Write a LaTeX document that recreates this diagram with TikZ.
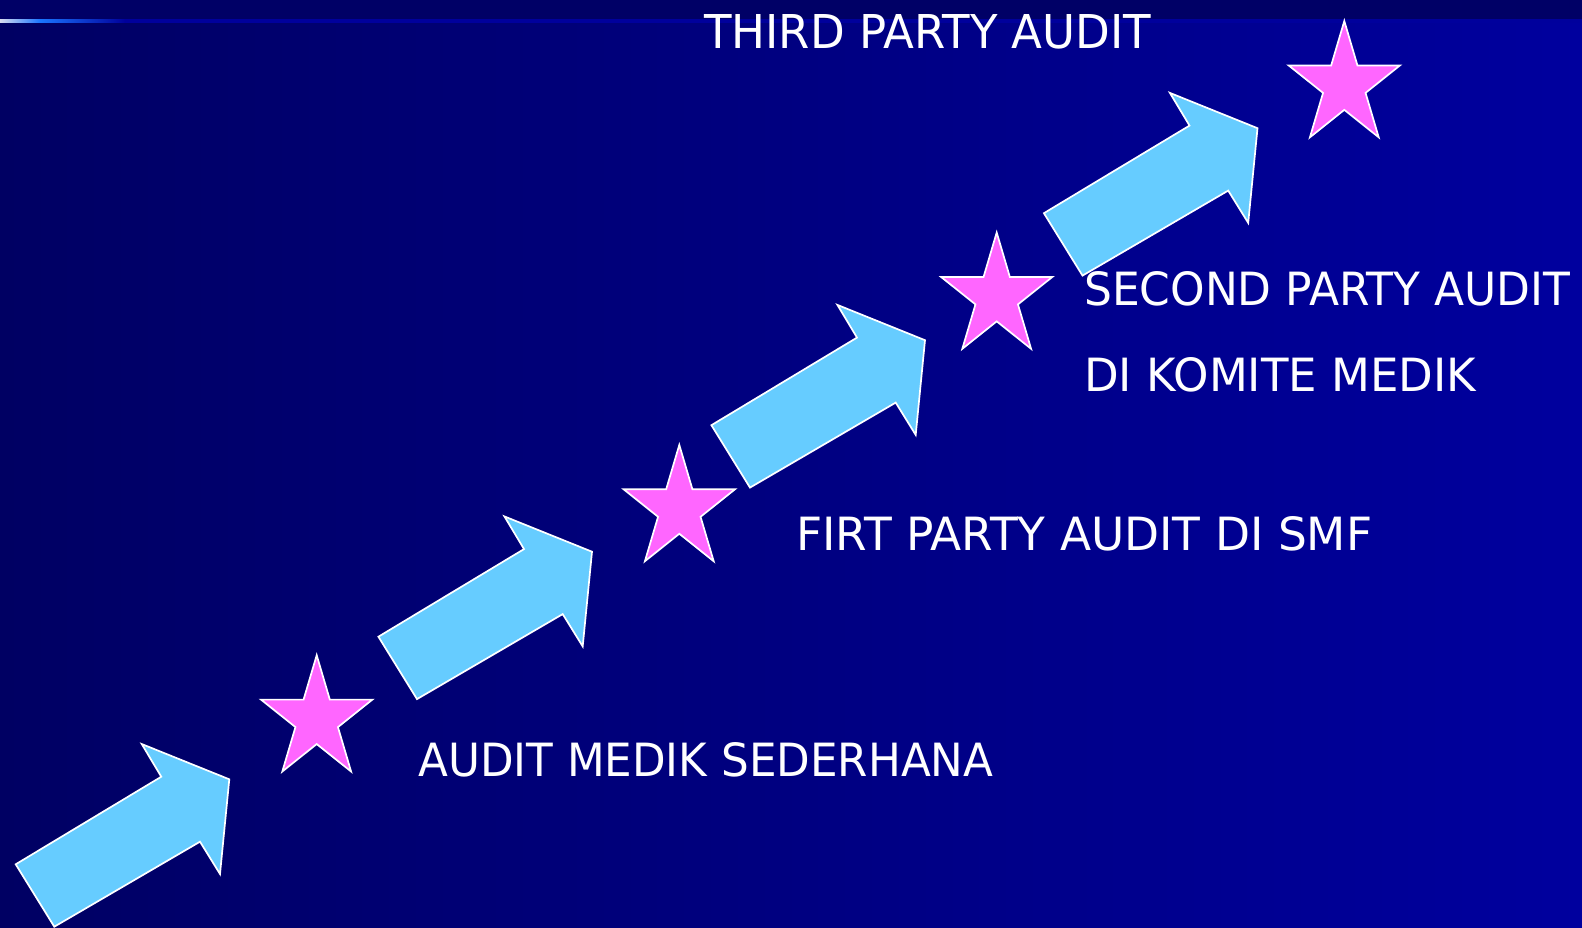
\documentclass[tikz,border=0pt]{standalone}
\usepackage{fontspec}
\setmainfont{DejaVu Sans}
\usepackage{graphicx}
\definecolor{bgL}{HTML}{000063}
\definecolor{bgR}{HTML}{00009E}
\definecolor{band}{HTML}{000066}
\definecolor{lineA}{HTML}{D8DCF0}
\definecolor{lineB}{HTML}{1A75FF}
\definecolor{lineC}{HTML}{00009C}
\definecolor{arrowc}{HTML}{66CCFF}
\definecolor{starc}{HTML}{FF66FF}
\newcommand\myarrow[2]{%
  \draw[arrowsty,shift={(#1,#2)}] (15.7,864.3) -- (161.3,776.7) -- (141.7,744) -- (229.3,779.3) -- (220,874) -- (200,841.7) -- (54.3,926.7) -- cycle;}
\newcommand\mystar[2]{%
  \begin{scope}[shift={(#1,#2)},xscale=0.91]
  \draw[starsty] (-90:64.3) -- (-54:24.56) -- (-18:64.3) -- (18:24.56) -- (54:64.3) -- (90:24.56) -- (126:64.3) -- (162:24.56) -- (198:64.3) -- (234:24.56) -- cycle;
  \end{scope}}
\begin{document}
\begin{tikzpicture}[x=1pt,y=-1pt,
  arrowsty/.style={fill=arrowc,draw=white,line width=1.7pt,line join=miter},
  starsty/.style={fill=starc,draw=white,line width=1.7pt,line join=miter},
  lbl/.style={text=white,inner sep=0pt,anchor=base west}]
\useasboundingbox (0,0) rectangle (1582,928);
\shade[left color=bgL,right color=bgR] (0,0) rectangle (1582,928);
\fill[band] (0,0) rectangle (1582,20);
\shade[left color=lineA,right color=lineB] (0,19.5) rectangle (40,23);
\shade[left color=lineB,right color=lineC] (40,19.5) rectangle (125,23);
\fill[lineC] (125,19.5) rectangle (1582,23);
% arrows
\myarrow{0}{0}
\myarrow{362.7}{-227.6}
\myarrow{695.7}{-439.1}
\myarrow{1028.2}{-651.1}
% stars
\mystar{316.7}{719.5}
\mystar{679.3}{509.2}
\mystar{996.7}{296.8}
\mystar{1344.3}{85.3}
% labels
\node[lbl] (t3) at (704,48.5) {\resizebox{447pt}{34pt}{THIRD PARTY AUDIT}};
\node[lbl] (t2a) at (1084,305.7) {\resizebox{486pt}{34pt}{SECOND PARTY AUDIT}};
\node[lbl] (t2b) at (1084,391.7) {\resizebox{392pt}{34pt}{DI KOMITE MEDIK}};
\node[lbl] (t1) at (796,550) {\resizebox{576pt}{34pt}{FIRT PARTY AUDIT DI SMF}};
\node[lbl] (t0) at (418,776) {\resizebox{575pt}{34pt}{AUDIT MEDIK SEDERHANA}};
\end{tikzpicture}
\end{document}
